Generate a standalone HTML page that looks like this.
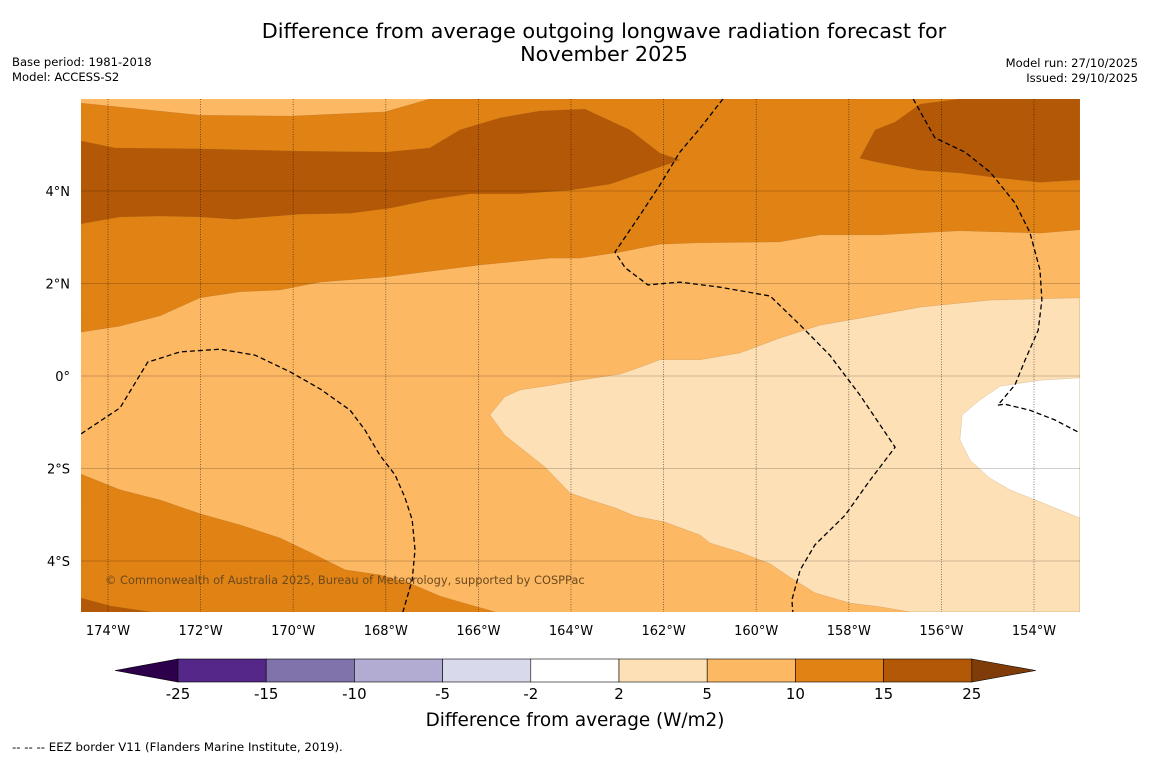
<!DOCTYPE html>
<html><head><meta charset="utf-8">
<style>
body{margin:0;background:#fff;font-family:"Liberation Sans","DejaVu Sans",sans-serif;}
svg{display:block}
text{font-family:"DejaVu Sans","Liberation Sans",sans-serif;fill:#000}
</style></head>
<body>
<svg id="chart" width="1150" height="758" viewBox="0 0 1150 758" xmlns="http://www.w3.org/2000/svg">
<text x="604" y="38" font-size="20.8" text-anchor="middle">Difference from average outgoing longwave radiation forecast for</text>
<text x="604" y="61" font-size="20.8" text-anchor="middle">November 2025</text>
<text x="12" y="66" font-size="11.6">Base period: 1981-2018</text>
<text x="12" y="81" font-size="11.6">Model: ACCESS-S2</text>
<text x="1138" y="67" font-size="11.6" text-anchor="end">Model run: 27/10/2025</text>
<text x="1138" y="82" font-size="11.6" text-anchor="end">Issued: 29/10/2025</text>
<defs><clipPath id="plotclip"><rect x="81" y="99" width="999" height="513"/></clipPath></defs>
<g id="plot" clip-path="url(#plotclip)"></g>
<g id="axes"></g>
<g id="cbar"></g>
<text x="575" y="726" font-size="18.4" text-anchor="middle">Difference from average (W/m2)</text>
<text x="12" y="751" font-size="11.8">--  --  -- EEZ border V11 (Flanders Marine Institute, 2019).</text>
</svg>
<script>
const lonTicks=[-174,-172,-170,-168,-166,-164,-162,-160,-158,-156,-154];
const latTicks=[4,2,0,-2,-4];
const cbarLevels=["-25","-15","-10","-5","-2","2","5","10","15","25"];
const cbarColors=["#542788","#8073ac","#b2abd2","#d8daeb","#ffffff","#fee0b6","#fdb863","#e08214","#b35806"];
const band10to15Top=[[-167.05,5.99],[-153.01,5.99],[-153.01,3.16],[-153.87,3.09],[-155.6,3.14],[-157.33,3.05],[-158.62,3.05],[-159.49,2.9],[-161.21,2.88],[-162.08,2.85],[-162.94,2.68],[-163.81,2.55],[-164.45,2.55],[-165.97,2.4],[-168.02,2.14],[-169.42,2.03],[-170.29,1.86],[-171.15,1.82],[-172.01,1.69],[-172.88,1.3],[-173.74,1.08],[-174.58,0.95],[-174.58,5.9],[-172.01,5.64],[-170.07,5.62],[-168.02,5.71]];
const band15to25Top=[[-174.58,5.08],[-173.85,4.93],[-172.01,4.91],[-169.85,4.86],[-168.02,4.84],[-167.05,4.93],[-166.4,5.32],[-165.53,5.58],[-164.67,5.73],[-163.7,5.77],[-162.73,5.32],[-162.08,4.82],[-161.65,4.67],[-162.29,4.45],[-163.16,4.15],[-164.02,4.02],[-165.1,3.94],[-166.18,3.94],[-167.05,3.81],[-167.91,3.63],[-168.77,3.52],[-169.85,3.5],[-171.26,3.39],[-172.01,3.44],[-172.88,3.46],[-173.74,3.44],[-174.58,3.29]];
const band15to25Corner=[[-157.76,4.71],[-157.43,5.32],[-157.0,5.49],[-156.46,5.88],[-155.6,5.99],[-153.01,5.99],[-153.01,4.24],[-153.87,4.19],[-154.73,4.28],[-155.6,4.39],[-156.46,4.45],[-157.33,4.61]];
const band10to15Bottom=[[-174.58,-2.12],[-173.74,-2.46],[-172.88,-2.68],[-172.01,-2.98],[-171.15,-3.22],[-170.29,-3.5],[-169.64,-3.81],[-168.88,-4.19],[-168.13,-4.3],[-167.48,-4.48],[-166.83,-4.76],[-166.18,-4.95],[-165.64,-5.1],[-174.58,-5.1]];
const band15to25Bottom=[[-174.58,-4.8],[-173.96,-4.97],[-173.09,-5.1],[-174.58,-5.1]];
const band2to5=[[-165.75,-0.84],[-165.43,-0.45],[-165.1,-0.3],[-164.56,-0.22],[-163.81,-0.09],[-162.94,0.04],[-162.51,0.19],[-162.08,0.35],[-161.21,0.35],[-160.35,0.5],[-159.49,0.82],[-158.62,1.1],[-157.76,1.25],[-156.46,1.49],[-154.95,1.64],[-153.01,1.69],[-153.01,-5.1],[-156.68,-5.1],[-157.33,-4.99],[-157.97,-4.91],[-158.73,-4.69],[-159.27,-4.35],[-159.7,-4.06],[-160.35,-3.81],[-161.0,-3.61],[-161.21,-3.44],[-161.97,-3.16],[-162.62,-3.03],[-163.05,-2.85],[-163.59,-2.68],[-164.02,-2.53],[-164.56,-1.97],[-165.43,-1.28]];
const bandNeutral=[[-153.01,-0.04],[-153.87,-0.09],[-154.73,-0.22],[-155.17,-0.52],[-155.55,-0.84],[-155.6,-1.38],[-155.38,-1.82],[-154.95,-2.21],[-154.52,-2.46],[-153.87,-2.72],[-153.01,-3.07]];
const eezWest=[[-174.58,-1.25],[-173.74,-0.69],[-173.14,0.3],[-172.44,0.52],[-171.58,0.58],[-170.82,0.45],[-170.07,0.09],[-169.42,-0.28],[-168.77,-0.74],[-168.45,-1.17],[-168.13,-1.71],[-167.8,-2.14],[-167.59,-2.62],[-167.43,-3.11],[-167.37,-3.76],[-167.43,-4.41],[-167.63,-5.1]];
const eezCentral=[[-160.72,5.99],[-161.21,5.36],[-161.65,4.84],[-162.08,4.13],[-162.51,3.48],[-163.05,2.68],[-162.83,2.34],[-162.34,1.97],[-161.65,2.03],[-160.78,1.92],[-159.7,1.73],[-159.05,1.1],[-158.41,0.45],[-157.76,-0.41],[-157.0,-1.54],[-157.54,-2.25],[-158.08,-3.01],[-158.73,-3.65],[-159.05,-4.19],[-159.23,-4.84],[-159.21,-5.1]];
const eezEast=[[-156.61,5.99],[-156.14,5.15],[-155.49,4.84],[-154.95,4.41],[-154.41,3.74],[-154.09,3.11],[-153.87,2.29],[-153.83,1.64],[-153.91,0.99],[-154.19,0.35],[-154.41,-0.19],[-154.78,-0.63]];
const eezSouthEast=[[-154.78,-0.63],[-154.63,-0.61],[-154.09,-0.74],[-153.55,-0.95],[-153.05,-1.21]];

const NS="http://www.w3.org/2000/svg";
const xS=lon=>108+(lon+174)*46.3;
const yS=lat=>376-lat*46.25;
const pts=a=>a.map(p=>xS(p[0]).toFixed(1)+","+yS(p[1]).toFixed(1)).join(" ");
const plot=document.getElementById("plot");
function mk(tag,attrs,parent){const e=document.createElementNS(NS,tag);for(const k in attrs)e.setAttribute(k,attrs[k]);parent.appendChild(e);return e;}
const bg=mk("rect",{x:81,y:99,width:999,height:513,fill:"#fdb863"},plot);


const bands=[["band-10-to-15-north",band10to15Top,"#e08214"],["band-15-to-25-north",band15to25Top,"#b35806"],["band-15-to-25-northeast",band15to25Corner,"#b35806"],["band-10-to-15-south",band10to15Bottom,"#e08214"],["band-15-to-25-south",band15to25Bottom,"#b35806"],["band-2-to-5",band2to5,"#fee0b6"],["band-neutral",bandNeutral,"#ffffff"]];
bands.forEach(b=>{
  const p=mk("polygon",{points:pts(b[1]),fill:b[2],stroke:"#8a5a20","stroke-width":0.3,"stroke-opacity":0.5},plot);
  
  
});
latTicks.forEach(v=>{
  const l=mk("line",{x1:81,x2:1080,y1:yS(v),y2:yS(v),stroke:"#000","stroke-opacity":0.25,"stroke-width":0.8},plot);
  
  
});
lonTicks.forEach(v=>{
  const l=mk("line",{x1:xS(v),x2:xS(v),y1:99,y2:612,stroke:"#000","stroke-opacity":0.6,"stroke-width":0.8,"stroke-dasharray":"1,1.5"},plot);
  
  
});
[["eez-west",eezWest],["eez-central",eezCentral],["eez-east",eezEast],["eez-southeast",eezSouthEast]].forEach(e=>{
  const p=mk("polyline",{points:pts(e[1]),fill:"none",stroke:"#000","stroke-width":1.3,"stroke-dasharray":"5,3"},plot);
  
  
});
const cp=mk("text",{x:105,y:584,"font-size":11.4},plot);
cp.textContent="© Commonwealth of Australia 2025, Bureau of Meteorology, supported by COSPPac";


cp.style.fill="#6b4a1e";

const axes=document.getElementById("axes");
lonTicks.forEach(v=>{
  const t=mk("text",{x:xS(v),y:635,"font-size":13,"text-anchor":"middle"},axes);
  t.textContent=Math.abs(v)+"°W";
  
  
});
latTicks.forEach(v=>{
  const t=mk("text",{x:70,y:yS(v)+5,"font-size":13,"text-anchor":"end"},axes);
  t.textContent=v===0?"0°":Math.abs(v)+"°"+(v>0?"N":"S");
  
  
});
const cb=document.getElementById("cbar");
const cx0=178,cw=88.2,cy=659,ch=23;
const tl=mk("polygon",{points:`115,${cy+ch/2} ${cx0},${cy} ${cx0},${cy+ch}`,fill:"#2d004b",stroke:"#000","stroke-width":0.6},cb);


cbarColors.forEach((c,i)=>{
  const r=mk("rect",{x:cx0+i*cw,y:cy,width:cw,height:ch,fill:c,stroke:"#000","stroke-width":0.6},cb);
  
  
});
const xe=cx0+cbarColors.length*cw;
const tr=mk("polygon",{points:`${xe},${cy} ${xe+64},${cy+ch/2} ${xe},${cy+ch}`,fill:"#7f3b08",stroke:"#000","stroke-width":0.6},cb);


cbarLevels.forEach((s,i)=>{
  const t=mk("text",{x:cx0+i*cw,y:699,"font-size":15,"text-anchor":"middle"},cb);
  t.textContent=s;
  
  
});
</script>
</body></html>
